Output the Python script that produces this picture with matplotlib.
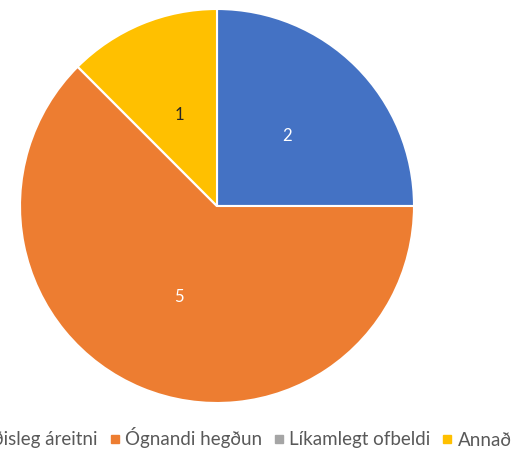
import numpy as np
import matplotlib.pyplot as plt
from matplotlib.lines import Line2D

categories = ['Kynferðisleg áreitni', 'Ógnandi hegðun', 'Líkamlegt ofbeldi', 'Annað']
values = [2, 5, 0, 1]
colors = ['#4472C4', '#ED7D31', '#A5A5A5', '#FFC000']
label_colors = ['white', 'white', 'white', '#262626']

plt.rcParams['font.family'] = ['Lato', 'DejaVu Sans']

fig = plt.figure(figsize=(5.28, 4.53), dpi=100)
ax = fig.add_axes([20 / 528, 50 / 453, 394 / 528, 394 / 453])

wedges, _ = ax.pie(values, colors=colors, startangle=90, counterclock=False,
                   wedgeprops=dict(edgecolor='white', linewidth=1.5))

# value labels at half radius, skip empty slices
for w, v, c in zip(wedges, values, label_colors):
    if v == 0:
        continue
    ang = np.radians((w.theta1 + w.theta2) / 2)
    ax.text(0.5 * np.cos(ang), 0.5 * np.sin(ang), str(v), ha='center', va='center',
            color=c, fontsize=12)

ax.set_xlim(-1, 1)
ax.set_ylim(-1, 1)
ax.set_aspect('equal')

handles = [Line2D([], [], marker='s', linestyle='none', markersize=6,
                  markerfacecolor=c, markeredgecolor=c) for c in colors]
fig.legend(handles, categories, loc='center', bbox_to_anchor=(0.409, 15 / 453),
           ncol=4, frameon=False, fontsize=13.5, handlelength=0.7, handletextpad=0.2,
           columnspacing=0.55, labelcolor='#595959')

fig.savefig('out.png', dpi=100)
